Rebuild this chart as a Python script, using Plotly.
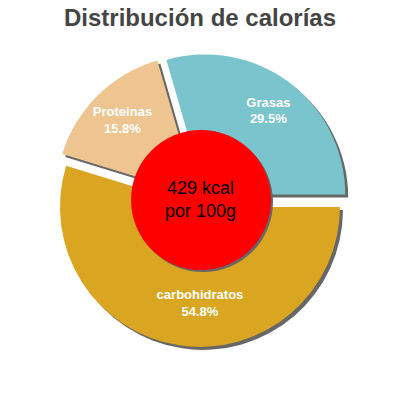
import plotly.graph_objects as go

labels = ["Grasas", "carbohidratos", "Proteinas"]
values = [29.5, 54.8, 15.8]
colors = ["#7AC5CD", "#DAA520", "#EEC591"]
title_text = "Distribución de calorías"
center_text = "429 kcal<br>por 100g"

W = H = 400
cx, cy = 201, 200          # pie centre, px from top-left
R = 140                    # pie radius, px
PULL = 0.05
SH = 3                     # pie shadow offset px
SHC = 2                    # circle shadow offset px
SHADOW = "#676767"
half = R * (1 + PULL)

def dom(dx, dy):
    x0 = (cx + dx - half) / W
    x1 = (cx + dx + half) / W
    y0 = 1 - (cy + dy + half) / H
    y1 = 1 - (cy + dy - half) / H
    return dict(x=[x0, x1], y=[y0, y1])

total = sum(values)
rot = 90 - values[0] / total * 360

common = dict(labels=labels, values=values, sort=False, direction="clockwise",
              rotation=rot, pull=[PULL] * len(values), showlegend=False,
              hoverinfo="skip")

fig = go.Figure()
# shadow
fig.add_trace(go.Pie(**common, domain=dom(SH, SH), textinfo="none",
                     marker=dict(colors=[SHADOW] * len(values), line=dict(width=0))))
# slices
fig.add_trace(go.Pie(**common, domain=dom(0, 0), textinfo="none",
                     marker=dict(colors=colors, line=dict(width=0))))
# labels (transparent donut so the text sits in the visible ring)
fig.add_trace(go.Pie(**common, domain=dom(0, 0), hole=0.5,
                     marker=dict(colors=["rgba(0,0,0,0)"] * len(values), line=dict(width=0)),
                     texttemplate="%{label}<br>%{value:.1f}%",
                     textposition="inside", insidetextorientation="horizontal",
                     textfont=dict(family="Liberation Sans", size=13, color="white",
                                   weight="bold")))

rc = R * 0.5
fig.add_shape(type="circle", xref="paper", yref="paper",
              x0=(cx + SHC - rc) / W, x1=(cx + SHC + rc) / W,
              y0=1 - (cy + SHC + rc) / H, y1=1 - (cy + SHC - rc) / H,
              fillcolor=SHADOW, line=dict(width=0), layer="above")
fig.add_shape(type="circle", xref="paper", yref="paper",
              x0=(cx - rc) / W, x1=(cx + rc) / W,
              y0=1 - (cy + rc) / H, y1=1 - (cy - rc) / H,
              fillcolor="#FF0000", line=dict(width=0), layer="above")
fig.add_annotation(text=center_text, x=cx / W, y=1 - (cy - 1) / H, xref="paper", yref="paper",
                   showarrow=False, font=dict(family="Liberation Sans", size=18, color="black"))

fig.update_layout(
    width=W, height=H, margin=dict(l=0, r=0, t=0, b=0),
    paper_bgcolor="white", plot_bgcolor="white",
    title=dict(text="<b>" + title_text + "</b>", x=0.5, xanchor="center",
               y=1 - 18 / H, yanchor="middle", yref="container",
               font=dict(family="Liberation Sans", size=24, color="#444444")),
)
fig.write_html("out.html", config={"displayModeBar": False},
               post_script="document.body.style.margin='0px';")
